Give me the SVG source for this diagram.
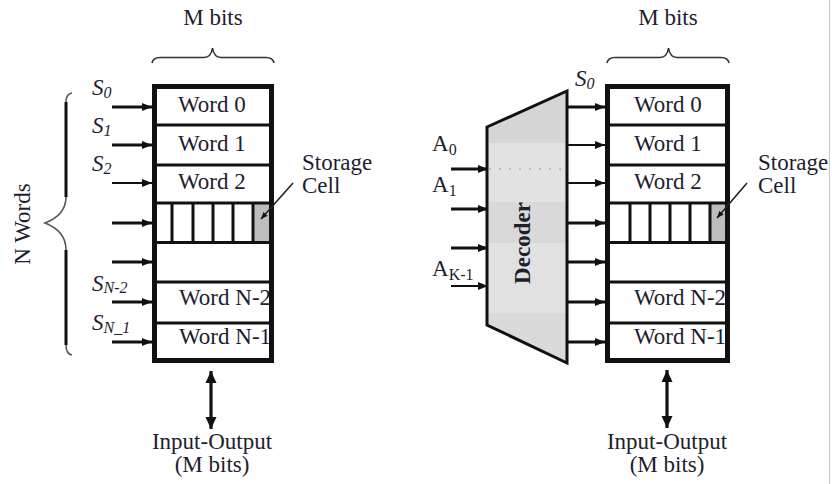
<svg xmlns="http://www.w3.org/2000/svg" width="832" height="484" viewBox="0 0 832 484">
<style>
text{font-family:"Liberation Serif","Times New Roman",serif;fill:#1e1e2e;font-size:23px}
.it{font-style:italic}
.sub{font-size:16px}
.mid{text-anchor:middle}
.border{fill:none;stroke:#111;stroke-width:5}
.div{stroke:#111;stroke-width:3}
.arr{stroke:#111;stroke-width:3.2;fill:none;marker-end:url(#ah)}
.arrt{stroke:#111;stroke-width:1.8;fill:none;marker-end:url(#ah)}
.brace{fill:none;stroke:#333;stroke-width:1.6}
</style>
<defs>
<marker id="ah" markerUnits="userSpaceOnUse" markerWidth="10" markerHeight="10" viewBox="0 0 10 10" refX="10" refY="5" orient="auto">
<path d="M0,1 L10,5 L0,9 Z" fill="#111"/>
</marker>
<marker id="ahs" markerUnits="userSpaceOnUse" markerWidth="7" markerHeight="7" viewBox="0 0 10 10" refX="10" refY="5" orient="auto">
<path d="M0,1 L10,5 L0,9 Z" fill="#111"/>
</marker>
<marker id="ahb" markerUnits="userSpaceOnUse" markerWidth="12" markerHeight="12" viewBox="0 0 12 12" refX="12" refY="6" orient="auto-start-reverse">
<path d="M0,0.5 L12,6 L0,11.5 Z" fill="#111"/>
</marker>
<clipPath id="decclip"><polygon points="487,127 567,91 567,363 487,325"/></clipPath>
</defs>

<line x1="829.5" y1="0" x2="829.5" y2="484" stroke="#c8c8c8" stroke-width="1"/>

<!-- Left memory -->
<g id="left-memory">
<text x="213" y="25" class="mid">M bits</text>
<path class="brace" d="M152,63 Q153,57.5 160,57.5 L204,57.5 Q211,57.5 212.5,48 Q214,57.5 221,57.5 L266,57.5 Q273,57.5 274,63"/>
<rect x="157" y="87" width="112" height="273" fill="#fff"/>
<rect x="253" y="204" width="16.5" height="37" fill="#bdbdbd"/>
<text x="178" y="112">Word 0</text>
<text x="178" y="151">Word 1</text>
<text x="178" y="189">Word 2</text>
<text x="179" y="305">Word N-2</text>
<text x="179" y="344">Word N-1</text>
<line class="div" x1="157" y1="125" x2="269" y2="125"/>
<line class="div" x1="157" y1="165" x2="269" y2="165"/>
<line class="div" x1="157" y1="203" x2="269" y2="203"/>
<line class="div" x1="157" y1="242.5" x2="269" y2="242.5"/>
<line class="div" x1="157" y1="282" x2="269" y2="282" stroke-width="2"/>
<line class="div" x1="157" y1="323" x2="269" y2="323"/>
<line class="div" x1="172" y1="203" x2="172" y2="242.5"/>
<line class="div" x1="193" y1="203" x2="193" y2="242.5"/>
<line class="div" x1="213" y1="203" x2="213" y2="242.5"/>
<line class="div" x1="233" y1="203" x2="233" y2="242.5"/>
<line class="div" x1="253" y1="203" x2="253" y2="242.5"/>
<rect class="border" x="154.5" y="86.5" width="117" height="274"/>
<text x="302" y="170">Storage</text>
<text x="302" y="193">Cell</text>
</g>

<!-- Left labels -->
<g id="left-labels">
<text x="92" y="95" class="it">S<tspan class="sub" dy="3">0</tspan></text>
<text x="92" y="133" class="it">S<tspan class="sub" dy="3">1</tspan></text>
<text x="92" y="171" class="it">S<tspan class="sub" dy="3">2</tspan></text>
<text x="92" y="291" class="it">S<tspan class="sub" dy="2">N-2</tspan></text>
<text x="92" y="330" class="it">S<tspan class="sub" dy="3">N_1</tspan></text>
<text class="mid" transform="translate(30,224) rotate(-90)">N Words</text>
<path d="M66,102 L66,197 M66,250 L66,345" stroke="#111" stroke-width="3" fill="none"/>
<path d="M72,93 Q66,94 66,102 M66,197 Q66,215 45,223 Q66,231 66,250 M66,345 Q66,354 72,355" fill="none" stroke="#555" stroke-width="1.6"/>
</g>

<!-- Left IO -->
<g id="left-io">
<text x="212" y="449" class="mid">Input-Output</text>
<text x="212" y="472" class="mid">(M bits)</text>
</g>

<!-- Decoder -->
<g id="decoder">
<g clip-path="url(#decclip)">
<rect x="487" y="88" width="80" height="55" fill="#d6d6d6"/>
<rect x="487" y="143" width="80" height="59" fill="#e2e2e2"/>
<rect x="487" y="202" width="80" height="41" fill="#d9d9d9"/>
<rect x="487" y="243" width="80" height="70" fill="#e1e1e1"/>
<rect x="487" y="313" width="80" height="52" fill="#dadada"/>
</g>
<line x1="489" y1="169" x2="566" y2="169" stroke="#999" stroke-width="1.2" stroke-dasharray="2,8"/>
<polygon points="487,127 567,91 567,363 487,325" fill="none" stroke="#111" stroke-width="3"/>
<text class="mid" font-weight="bold" transform="translate(522,243) rotate(-90)" dominant-baseline="central">Decoder</text>
</g>

<g id="decoder-labels">
<text x="432" y="151">A<tspan class="sub" dy="4">0</tspan></text>
<text x="432" y="192">A<tspan class="sub" dy="4">1</tspan></text>
<text x="432" y="276">A<tspan class="sub" dy="4">K-1</tspan></text>
<text x="575" y="86" class="it">S<tspan class="sub" dy="3">0</tspan></text>
</g>

<!-- Right memory -->
<g id="right-memory">
<text x="668" y="25" class="mid">M bits</text>
<path class="brace" d="M607,63 Q608,57.5 615,57.5 L660,57.5 Q667,57.5 668.5,48 Q670,57.5 677,57.5 L721,57.5 Q728,57.5 729,63"/>
<rect x="610" y="87" width="115" height="273" fill="#fff"/>
<rect x="710" y="204" width="15.5" height="37" fill="#bdbdbd"/>
<text x="634" y="112">Word 0</text>
<text x="634" y="151">Word 1</text>
<text x="634" y="189">Word 2</text>
<text x="634" y="305">Word N-2</text>
<text x="634" y="344">Word N-1</text>
<line class="div" x1="610" y1="125" x2="725" y2="125"/>
<line class="div" x1="610" y1="165" x2="725" y2="165"/>
<line class="div" x1="610" y1="203" x2="725" y2="203"/>
<line class="div" x1="610" y1="242.5" x2="725" y2="242.5"/>
<line class="div" x1="610" y1="282" x2="725" y2="282" stroke-width="2"/>
<line class="div" x1="610" y1="323" x2="725" y2="323"/>
<line class="div" x1="630" y1="203" x2="630" y2="242.5"/>
<line class="div" x1="650" y1="203" x2="650" y2="242.5"/>
<line class="div" x1="670" y1="203" x2="670" y2="242.5"/>
<line class="div" x1="690" y1="203" x2="690" y2="242.5"/>
<line class="div" x1="710" y1="203" x2="710" y2="242.5"/>
<rect class="border" x="607.5" y="86.5" width="120" height="274"/>
<text x="758" y="170">Storage</text>
<text x="758" y="193">Cell</text>
</g>

<g id="right-io">
<text x="667" y="449" class="mid">Input-Output</text>
<text x="667" y="472" class="mid">(M bits)</text>
</g>

<!-- Connectors -->
<g id="connectors">
<line class="arr" x1="112" y1="107" x2="152" y2="107"/>
<line class="arr" x1="112" y1="145" x2="152" y2="145"/>
<line class="arrt" x1="112" y1="183" x2="152" y2="183"/>
<line class="arr" x1="112" y1="223" x2="152" y2="223"/>
<line class="arr" x1="112" y1="262" x2="152" y2="262"/>
<line class="arr" x1="112" y1="302" x2="152" y2="302"/>
<line class="arr" x1="112" y1="342" x2="152" y2="342"/>

<line class="arr" x1="451" y1="169" x2="488" y2="169"/>
<line class="arr" x1="451" y1="209" x2="488" y2="209"/>
<line class="arr" x1="451" y1="248" x2="488" y2="248"/>
<line class="arrt" x1="451" y1="286" x2="488" y2="286"/>

<line class="arr" x1="567" y1="107" x2="605" y2="107"/>
<line class="arrt" x1="567" y1="145" x2="605" y2="145"/>
<line class="arrt" x1="567" y1="183" x2="605" y2="183"/>
<line class="arr" x1="567" y1="223" x2="605" y2="223"/>
<line class="arr" x1="567" y1="262" x2="605" y2="262"/>
<line class="arr" x1="567" y1="302" x2="605" y2="302"/>
<line class="arr" x1="567" y1="342" x2="605" y2="342"/>

<line x1="293" y1="183" x2="261" y2="219" stroke="#222" stroke-width="1.6" marker-end="url(#ahs)"/>
<line x1="747" y1="183" x2="717" y2="218" stroke="#222" stroke-width="1.6" marker-end="url(#ahs)"/>

<line x1="211" y1="371" x2="211" y2="429" stroke="#111" stroke-width="3.2" marker-start="url(#ahb)" marker-end="url(#ahb)"/>
<line x1="667" y1="370" x2="667" y2="428" stroke="#111" stroke-width="3.2" marker-start="url(#ahb)" marker-end="url(#ahb)"/>
</g>
</svg>
